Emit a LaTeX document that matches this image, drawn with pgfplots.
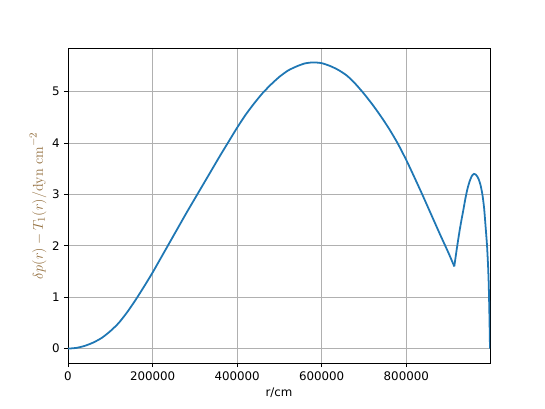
\documentclass[border=0pt]{standalone}
\usepackage[no-math]{fontspec}
\setmainfont{DejaVu Sans}
\usepackage{pgfplots}
\pgfplotsset{compat=1.18}
\definecolor{mplblue}{HTML}{1F77B4}
\definecolor{labelbrown}{RGB}{145,108,58}
\definecolor{gridgray}{HTML}{B0B0B0}

\begin{document}
\begin{tikzpicture}
\begin{axis}[
    name=ax,
    scale only axis,
    width=356.8pt, height=266.3pt,
    xmin=0, xmax=998000,
    ymin=-0.279, ymax=5.85,
    xtick={0,200000,400000,600000,800000},
    ytick={0,1,2,3,4,5},
    scaled x ticks=false,
    scaled y ticks=false,
    xticklabel style={/pgf/number format/fixed, /pgf/number format/1000 sep={}},
    /pgf/number format/assume math mode=true,
    tick label style={font=\fontsize{10}{12}\selectfont},
    grid=major,
    major grid style={color=gridgray, line width=0.8pt},
    axis line style={line width=0.8pt},
    tick style={black, line width=0.8pt},
    tick align=outside,
    major tick length=3.5pt,
    tick pos=left,
    xlabel={r/cm},
    xlabel style={font=\fontsize{10}{12}\selectfont},
    ylabel={\color{labelbrown}$\delta p(r) - T_1(r)/\mathrm{dyn\ cm}^{-2}$},
    ylabel style={font=\fontsize{13}{15}\selectfont, yshift=-2pt},
]
% rising part and main hump, up to the cusp
\addplot[mplblue, line width=1.5pt, smooth, tension=0.4] coordinates {
(0,0) (20000,0.015) (40000,0.055) (60000,0.12) (80000,0.21)
(100000,0.34) (120000,0.50) (140000,0.71) (160000,0.95) (180000,1.21)
(200000,1.48) (220000,1.77) (240000,2.06) (260000,2.35) (280000,2.64)
(300000,2.92) (320000,3.20) (340000,3.48) (360000,3.76) (380000,4.03)
(400000,4.30) (420000,4.55) (440000,4.77) (460000,4.97) (480000,5.14)
(500000,5.29) (520000,5.41) (540000,5.49) (560000,5.55) (580000,5.57)
(600000,5.555) (620000,5.50) (640000,5.42) (660000,5.31) (680000,5.15)
(700000,4.96) (720000,4.75) (740000,4.52) (760000,4.27) (780000,3.99)
(800000,3.67) (820000,3.32) (840000,2.96) (860000,2.59) (880000,2.22)
(900000,1.86) (913500,1.60)
};
% second bump near the surface
\addplot[mplblue, line width=1.5pt, smooth, tension=0.4] coordinates {
(913500,1.60) (918000,1.86) (922000,2.08) (926000,2.29) (930000,2.48)
(935000,2.70) (940000,2.93) (945000,3.12) (950000,3.26) (955000,3.36)
(960000,3.40) (964000,3.39) (968000,3.35) (972000,3.28) (976000,3.17)
(980000,3.00) (984000,2.74) (988000,2.33) (991000,2.00) (993500,1.60)
(995000,1.25) (996500,0.70) (998000,0)
};
\node[anchor=south west, inner sep=0pt, yshift=3pt, font=\fontsize{10}{12}\selectfont]
    at (rel axis cs:0,1) {1e28};
\end{axis}
\pgfresetboundingbox
\useasboundingbox ([xshift=-57.5pt,yshift=-38.9pt]ax.south west)
    rectangle ([xshift=46.5pt,yshift=40.6pt]ax.north east);
\end{tikzpicture}
\end{document}
